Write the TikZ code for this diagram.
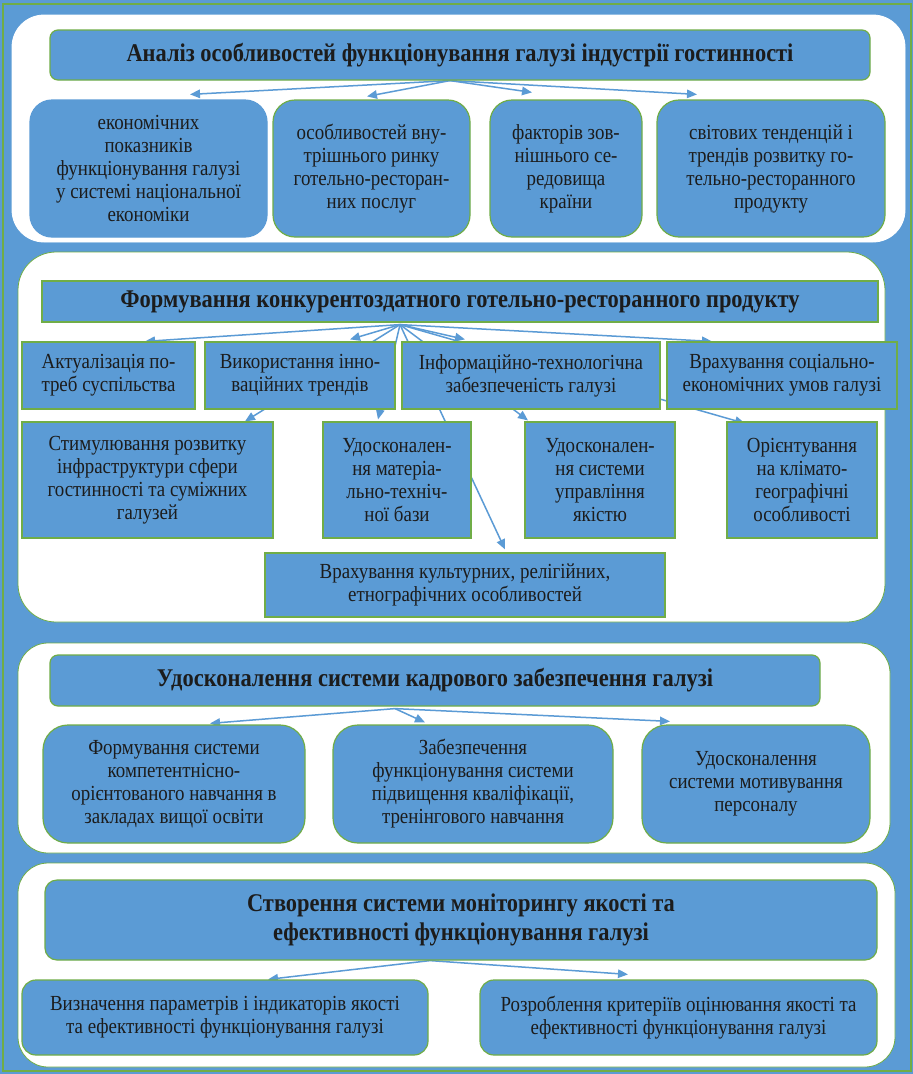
\documentclass[tikz,border=0pt]{standalone}
\usepackage{fontspec}
\setmainfont[FakeStretch=0.88]{Liberation Serif}
\usepackage{xcolor}
\usetikzlibrary{arrows.meta,positioning,backgrounds}
\definecolor{hotelblue}{HTML}{5B9BD5}
\definecolor{hotelgreen}{HTML}{70AD47}
\definecolor{hoteltext}{HTML}{1C1C1C}
\pgfdeclarelayer{links}
\pgfsetlayers{background,links,main}

\begin{document}
\begin{tikzpicture}[
    x=1pt, y=-1pt,
    panel/.style={rectangle, rounded corners=30pt, draw=hotelgreen, fill=white, line width=0.8pt},
    head/.style={rectangle, rounded corners=8pt, draw=hotelgreen, fill=hotelblue, line width=1.2pt, text=hoteltext, font=\bfseries\fontsize{25.5}{29.5}\selectfont, align=center, inner sep=2pt},
    item/.style={rectangle, rounded corners=22pt, draw=hotelgreen, fill=hotelblue, line width=1.2pt, text=hoteltext, font=\fontsize{21.5}{23}\selectfont, align=center, inner sep=2pt},
    sqitem/.style={item, sharp corners},
    arr/.style={-{Triangle[length=10pt, width=8.5pt]}, line width=1.5pt, draw=hotelblue}
]
    \useasboundingbox (0,0) rectangle (913,1074);

    % Page and panels
    \begin{scope}[on background layer]
        \fill [hotelblue] (0,0) rectangle (913,1074);
        \draw [hotelgreen, line width=1.5pt] (3,4) rectangle (911,1071);
        \node (p1) [panel, draw=white, rounded corners=32pt, minimum width=893pt, minimum height=227pt] at (458.5,128.5) {};
        \node (p2) [panel, rounded corners=38pt, minimum width=867pt, minimum height=370pt] at (451.5,437) {};
        \node (p3) [panel, minimum width=872pt, minimum height=210pt] at (454,748) {};
        \node (p4) [panel, minimum width=877pt, minimum height=204pt] at (456.5,965) {};
    \end{scope}

    % Block 1
    \node (h1) [head, minimum width=820pt, minimum height=50pt] at (460,55) {Аналіз особливостей функціонування галузі індустрії гостинності};
    \node (a1) [item, draw=hotelblue, minimum width=237pt, minimum height=137pt] at (148.5,168.5) {економічних\\показників\\функціонування галузі\\у системі національної\\економіки};
    \node (a2) [item, minimum width=197pt, minimum height=137pt] at (371.5,168.5) {особливостей вну-\\трішнього ринку\\готельно-ресторан-\\них послуг};
    \node (a3) [item, minimum width=152pt, minimum height=137pt] at (566,168.5) {факторів зов-\\нішнього се-\\редовища\\країни};
    \node (a4) [item, minimum width=228pt, minimum height=137pt] at (771,168.5) {світових тенденцій і\\трендів розвитку го-\\тельно-ресторанного\\продукту};
    \coordinate (o1) at ([xshift=-10pt]h1.south);

    % Block 2
    \node (h2) [head, sharp corners, minimum width=836pt, minimum height=41pt] at (460,301.5) {Формування конкурентоздатного готельно-ресторанного продукту};
    \node (b1) [sqitem, minimum width=173pt, minimum height=67pt] at (108.5,375.5) {Актуалізація по-\\треб суспільства};
    \node (b2) [sqitem, minimum width=190pt, minimum height=67pt] at (300,375.5) {Використання інно-\\ваційних трендів};
    \node (b3) [sqitem, minimum width=258pt, minimum height=67pt] at (531,375.5) {Інформаційно-технологічна\\забезпеченість галузі};
    \node (b4) [sqitem, minimum width=230pt, minimum height=67pt] at (782,375.5) {Врахування соціально-\\економічних умов галузі};
    \node (c1) [sqitem, minimum width=251pt, minimum height=116pt] at (147.5,480) {Стимулювання розвитку\\інфраструктури сфери\\гостинності та суміжних\\галузей};
    \node (c2) [sqitem, minimum width=148pt, minimum height=116pt] at (397,480) {Удосконален-\\ня матеріа-\\льно-техніч-\\ної бази};
    \node (c3) [sqitem, minimum width=150pt, minimum height=116pt] at (600,480) {Удосконален-\\ня системи\\управління\\якістю};
    \node (c4) [sqitem, minimum width=150pt, minimum height=116pt] at (802,480) {Орієнтування\\на клімато-\\географічні\\особливості};
    \node (d1) [sqitem, minimum width=400pt, minimum height=64pt] at (465,585) {Врахування культурних, релігійних,\\етнографічних особливостей};
    \coordinate (o2) at ([xshift=-60pt, yshift=-2pt]h2.south);

    % Block 3
    \node (h3) [head, minimum width=770pt, minimum height=51pt] at (435,680.5) {Удосконалення системи кадрового забезпечення галузі};
    \node (e1) [item, rounded corners=25pt, minimum width=262pt, minimum height=118pt] at (174,784) {Формування системи\\компетентнісно-\\орієнтованого навчання в\\закладах вищої освіти};
    \node (e2) [item, rounded corners=25pt, minimum width=280pt, minimum height=118pt] at (473,784) {Забезпечення\\функціонування системи\\підвищення кваліфікації,\\тренінгового навчання};
    \node (e3) [item, rounded corners=25pt, minimum width=228pt, minimum height=118pt] at (756,784) {Удосконалення\\системи мотивування\\персоналу};
    \coordinate (o3) at ([xshift=-40pt, yshift=-2pt]h3.south);

    % Block 4
    \node (h4) [head, rounded corners=12pt, minimum width=832pt, minimum height=80pt] at (461,920) {Створення системи моніторингу якості та\\ефективності функціонування галузі};
    \node (f1) [item, rounded corners=14pt, minimum width=406pt, minimum height=75pt] at (225,1017.5) {Визначення параметрів і індикаторів якості\\та ефективності функціонування галузі};
    \node (f2) [item, rounded corners=14pt, minimum width=397pt, minimum height=75pt] at (678.5,1017.5) {Розроблення критеріїв оцінювання якості та\\ефективності функціонування галузі};
    \coordinate (o4) at ([xshift=-31pt]h4.south);

    % Connectors
    \begin{pgfonlayer}{links}
        \draw [arr] (o1) -- ([xshift=41.5pt, yshift=5pt]a1.north);
        \draw [arr] (o1) -- ([xshift=-4.5pt, yshift=3pt]a2.north);
        \draw [arr] (o1) -- ([xshift=-34pt, yshift=7pt]a3.north);
        \draw [arr] (o1) -- ([xshift=-74pt, yshift=5pt]a4.north);

        \draw [arr] (o2) -- ([xshift=36.5pt]b1.north);
        \draw [arr] (o2) -- ([xshift=50pt, yshift=2pt]b2.north);
        \draw [arr] (o2) -- ([xshift=-66pt, yshift=2pt]b3.north);
        \draw [arr] (o2) -- ([xshift=-70pt]b4.north);
        \draw [arr] (o2) -- ([xshift=97.5pt]c1.north);
        \draw [arr] (o2) -- ([xshift=-19pt, yshift=2pt]c2.north);
        \draw [arr] (o2) -- ([xshift=-72pt, yshift=1pt]c3.north);
        \draw [arr] (o2) -- ([xshift=-57pt, yshift=-2pt]c4.north);
        \draw [arr] (o2) -- ([xshift=40pt, yshift=3pt]d1.north);

        \draw [arr] (o3) -- ([xshift=36pt, yshift=1pt]e1.north);
        \draw [arr] (o3) -- ([xshift=-48pt, yshift=2pt]e2.north);
        \draw [arr] (o3) -- ([xshift=-86pt, yshift=3pt]e3.north);

        \draw [arr] (o4) -- ([xshift=43pt]f1.north);
        \draw [arr] (o4) -- ([xshift=-50.5pt, yshift=5pt]f2.north);
    \end{pgfonlayer}
\end{tikzpicture}
\end{document}
